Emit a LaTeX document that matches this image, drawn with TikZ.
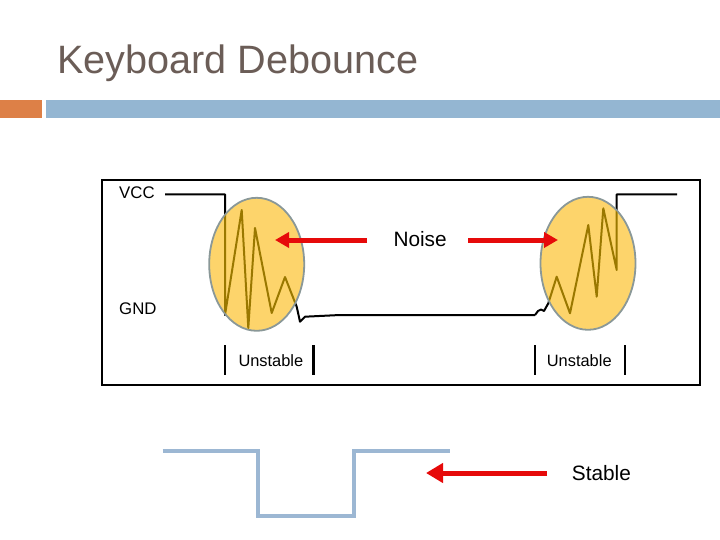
\documentclass[tikz,border=0pt]{standalone}
\usepackage{fontspec}
\setmainfont{Liberation Sans}
\usetikzlibrary{arrows.meta, shapes.geometric}
\definecolor{titlegray}{HTML}{6B5D57}
\definecolor{barorange}{HTML}{DD8047}
\definecolor{barblue}{HTML}{94B6D2}
\definecolor{wireblue}{HTML}{9CB7D3}
\definecolor{blobfill}{HTML}{FDD46B}
\definecolor{blobedge}{HTML}{8A9898}
\definecolor{noiseolive}{HTML}{9A7800}
\definecolor{arrowred}{HTML}{E60A0A}

\newcommand{\leftsignal}{(165,194.5) -- (225,194.5) -- (225,315) -- (241.7,210) -- (248.3,328)
  -- (255,228) -- (271.7,313) -- (285,277) -- (296.7,306.7) -- (300,321.7) -- (305,316.7)
  -- (340,315) -- (535,315)}
\newcommand{\rightsignal}{(535,315) -- (538,311) -- (541,309.5) -- (544,311) -- (548.3,303.3)
  -- (556.7,276.7) -- (570,313.3) -- (588.3,225) -- (596.7,296.7) -- (603.3,208.3)
  -- (616.7,270) -- (616.7,194.5) -- (677,194.5)}

\begin{document}
\begin{tikzpicture}[x=1pt, y=-1pt,
  heading/.style={anchor=base west, inner sep=0pt, text=titlegray,
                  font=\fontsize{39.6}{44}\selectfont},
  level/.style={anchor=base west, inner sep=0pt, font=\fontsize{16.8}{20}\selectfont},
  tag/.style={anchor=base west, inner sep=0pt, font=\fontsize{16.4}{19}\selectfont},
  callout/.style={anchor=base west, inner sep=0pt, font=\fontsize{20.8}{24}\selectfont},
  sigline/.style={line width=2pt, line join=round},
  noisy/.style={line width=2pt, line join=round, noiseolive},
  blob/.style={ellipse, fill=blobfill, draw=blobedge, line width=1.8pt, inner sep=0pt,
               minimum width=95pt, minimum height=133pt},
  marker/.style={line width=2.5pt},
  pointer/.style={line width=5pt, arrowred, -{Triangle[length=14pt, width=15pt]}},
  bigpointer/.style={line width=5pt, arrowred, -{Triangle[length=17pt, width=19pt]}},
  stablewire/.style={line width=4.3pt, wireblue, line join=miter},
]
\useasboundingbox (0,0) rectangle (720,540);

\node[heading] (title) at (57,74) {Keyboard Debounce};
\fill[barorange] (0,100) rectangle (42,118);
\fill[barblue] (46,100) rectangle (720,118);

\draw[line width=1.2pt] (102,180) rectangle (700,385);

\node[level] (vcc) at (119,198.5) {VCC};
\node[level] (gnd) at (119,314.5) {GND};

\draw[sigline] \leftsignal;
\draw[sigline] \rightsignal;

\node[blob] (blobL) at (256.7,264.3) {};
\node[blob] (blobR) at (588,263.3) {};

\begin{scope}
  \clip (blobL.center) ellipse [x radius=46.6pt, y radius=65.6pt];
  \draw[noisy] \leftsignal;
\end{scope}
\begin{scope}
  \clip (blobR.center) ellipse [x radius=46.6pt, y radius=65.6pt];
  \draw[noisy] \rightsignal;
\end{scope}

\node[callout] (noise) at (393.3,246.7) {Noise};
\coordinate (noiseL) at (367,240);
\coordinate (noiseR) at (468,240);
\coordinate (tipL) at (275,240);
\coordinate (tipR) at (558,240);
\draw[pointer] (noiseL) -- (tipL);
\draw[pointer] (noiseR) -- (tipR);

\node[tag] (unstL) at (238.3,366.7) {Unstable};
\node[tag] (unstR) at (546.7,366.7) {Unstable};
\draw[marker] (225,345) -- (225,375);
\draw[marker] (313.3,345) -- (313.3,375);
\draw[marker] (535,345) -- (535,375);
\draw[marker] (625,345) -- (625,375);

\draw[stablewire] (162.7,450.7) -- (258.3,450.7) -- (258.3,516) -- (354,516)
  -- (354,450.7) -- (450,450.7);

\node[callout] (stable) at (571.7,480) {Stable};
\coordinate (stableS) at (547,473);
\coordinate (stableT) at (426,473);
\draw[bigpointer] (stableS) -- (stableT);

\end{tikzpicture}
\end{document}
